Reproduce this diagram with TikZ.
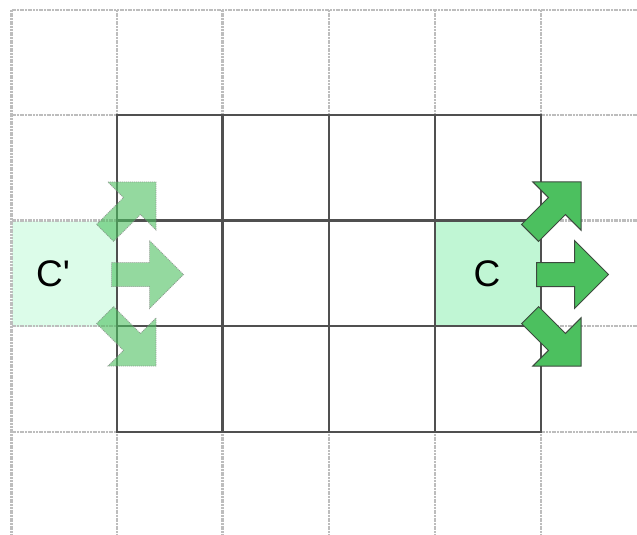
\documentclass[tikz,border=0pt]{standalone}
\usepackage{fontspec}
\newfontfamily\lab{Liberation Sans}
\definecolor{lightgrid}{HTML}{BDBDBD}
\definecolor{darkgrid}{HTML}{505050}
\definecolor{cfill}{HTML}{C0F6D4}
\definecolor{cpfill}{HTML}{DCFCE9}
\definecolor{agreen}{HTML}{4CC05F}
\definecolor{aedge}{HTML}{3C4A3E}
\tikzset{
  lightline/.style={draw=lightgrid, line width=2.6, dash pattern=on 2 off 0.7},
  darkline/.style={draw=darkgrid, line width=2.4},
  cellbox/.style={draw=none, inner sep=0, minimum width=106, minimum height=106, anchor=north west},
  labeltext/.style={font=\lab\fontsize{37}{42}\selectfont, text=black, inner sep=0},
  solidarrow/.style={fill=agreen, draw=aedge, line width=1, line join=miter},
  ghostarrow/.style={fill=agreen, fill opacity=0.6, draw=gray, draw opacity=0.7, line width=0.8, dash pattern=on 1 off 1},
}
\newcommand{\arrowshape}[1]{\path[#1] (0,-12) -- (38,-12) -- (38,-34) -- (72,0) -- (38,34) -- (38,12) -- (0,12) -- cycle;}
\begin{document}
\begin{tikzpicture}[x=1pt,y=-1pt]
\useasboundingbox (0,0) rectangle (637,535);
% cells
\node[cellbox, fill=cpfill] (cp) at (11.5,220.5) {};
\node[cellbox, fill=cfill, minimum width=105.5, minimum height=105.5] (c) at (435,220.5) {};
% light grid
\foreach \x in {11.5,117,222.5,329,435,541} \draw[lightline] (\x,10) -- (\x,535);
\foreach \y in {10,115,220.5,326,432} \draw[lightline] (11.5,\y) -- (637,\y);
% dark grid
\draw[darkline] (117,115) rectangle (541,432);
\foreach \x in {222.5,329,435} \draw[darkline] (\x,115) -- (\x,432);
\foreach \y in {220.5,326} \draw[darkline] (117,\y) -- (541,\y);
% labels
\node[labeltext] (lc) at (487,274) {C};
\node[labeltext, anchor=west] (lcp) at (36,274) {C'};
% solid arrows from C
\begin{scope}[shift={(530.1,232.9)}, rotate=45] \arrowshape{solidarrow} \end{scope}
\begin{scope}[shift={(536.5,274.5)}] \arrowshape{solidarrow} \end{scope}
\begin{scope}[shift={(530.1,315.1)}, rotate=-45] \arrowshape{solidarrow} \end{scope}
% ghost arrows from C'
\begin{scope}[shift={(105.1,232.9)}, rotate=45] \arrowshape{ghostarrow} \end{scope}
\begin{scope}[shift={(111.5,274.5)}] \arrowshape{ghostarrow} \end{scope}
\begin{scope}[shift={(105.1,315.1)}, rotate=-45] \arrowshape{ghostarrow} \end{scope}
\end{tikzpicture}
\end{document}
